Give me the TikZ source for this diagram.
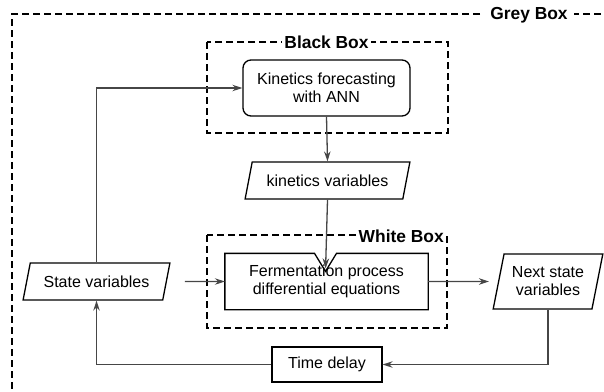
\documentclass[tikz,border=0pt]{standalone}
\usepackage{fontspec}
\setmainfont{Liberation Sans}
\usetikzlibrary{arrows.meta, calc, shapes.geometric}
\definecolor{linegray}{RGB}{70,70,70}

\begin{document}
\begin{tikzpicture}[x=1pt, y=-1pt, >={Stealth[length=10pt, width=6.5pt]},
        font=\fontsize{16}{18}\selectfont,
        procbox/.style={draw, line width=1.3pt, align=center, inner sep=0pt},
        iobox/.style={draw, line width=1.3pt, align=center, inner sep=0pt, trapezium, trapezium stretches=true, trapezium left angle=64, trapezium right angle=116},
        groupbox/.style={draw, line width=2.3pt, dash pattern=on 7pt off 4pt},
        grouplabel/.style={fill=white, font=\fontsize{17.4}{20}\selectfont\bfseries, inner xsep=2pt, inner ysep=1pt},
        flow/.style={->, draw=linegray, line width=1.3pt}]

        \useasboundingbox (0,0) rectangle (604,391);

        % Grey box
        \draw[groupbox] (612,14) -- (12,14) -- (12,400);
        \node[grouplabel, inner xsep=6pt] (greylabel) at (529,15) {Grey Box};

        % Black box
        \draw[groupbox] (207,42) rectangle (448,133);
        \node[grouplabel] (blacklabel) at (326.5,42) {Black Box};
        \node[procbox, rounded corners=8pt, minimum width=167pt, minimum height=56pt] (kin) at (326.5,88) {Kinetics forecasting\\with ANN};

        % Kinetics variables
        \node[iobox, minimum width=165pt, minimum height=37pt] (kinvar) at (327.5,180.5) {kinetics variables};

        % White box
        \draw[groupbox] (207,235) rectangle (447,328);
        \node[grouplabel, anchor=east] (whitelabel) at (446,236) {White Box};
        \node[procbox, draw=none, minimum width=202pt, minimum height=55pt] (ferm) at (326.5,281.5) {Fermentation process\\differential equations};
        \coordinate (notch) at ($(ferm.north)+(-1,18)$);
        \draw[line width=1.3pt] (ferm.north west) -- ($(ferm.north)+(-12,0)$) -- (notch) -- ($(ferm.north)+(10,0)$)
            -- (ferm.north east) -- (ferm.south east) -- (ferm.south west) -- cycle;

        % State variables
        \node[iobox, minimum width=147pt, minimum height=37pt] (state) at (96.5,281.5) {State variables};
        \node[iobox, trapezium left angle=73, trapezium right angle=107, minimum width=110pt, minimum height=55pt] (next) at (548,281.5) {Next state\\variables};
        \node[procbox, minimum width=110pt, minimum height=35pt] (delay) at (327,364.5) {Time delay};

        % Arrows
        \draw[flow] (kin.south) -- (kinvar.north);
        \draw[flow, shorten >=3pt] (kinvar.south) -- (notch);
        \draw[flow] (state.north) |- (kin.west);
        \draw[flow, shorten <=18pt] (state.east) -- (ferm.west);
        \draw[flow, shorten >=9pt] (ferm.east) -- (next.west);
        \draw[flow] (next.south) |- (delay.east);
        \draw[flow] (delay.west) -| (state.south);
    \end{tikzpicture}
\end{document}
